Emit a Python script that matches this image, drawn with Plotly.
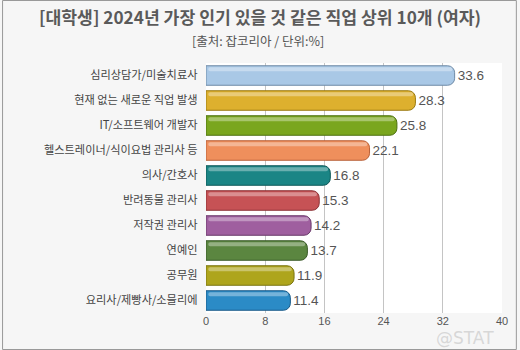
import plotly.graph_objects as go

categories = ["심리상담가/미술치료사", "현재 없는 새로운 직업 발생", "IT/소프트웨어 개발자",
              "헬스트레이너/식이요법 관리사 등", "의사/간호사", "반려동물 관리사", "저작권 관리사",
              "연예인", "공무원", "요리사/제빵사/소믈리에"]
values = [33.6, 28.3, 25.8, 22.1, 16.8, 15.3, 14.2, 13.7, 11.9, 11.4]
colors = ["#a9c8e6", "#ddb02e", "#7aa61e", "#ef8f5c", "#1b8585", "#c65255",
          "#9f5f9f", "#5b8640", "#aea51c", "#2b8bc6"]
edges = ["#6f8aa6", "#9a7a10", "#4d7010", "#b86038", "#0e5858", "#8a3035",
         "#6a3a6a", "#3a5a28", "#7a7410", "#1a5a88"]
tickvals = [0, 8, 16, 24, 32, 40]

W, H = 520, 350
ml, mr, mt, mb = 206, 15, 63, 37
pw, ph = W - ml - mr, H - mt - mb

fig = go.Figure()
fig.add_trace(go.Bar(
    y=categories, x=values, orientation="h",
    marker=dict(color=colors, line=dict(color=edges, width=1)),
    width=0.78,
    text=[f"{v:.1f}" for v in values], textposition="outside",
    textfont=dict(size=13.5, color="#555555", family="Liberation Sans, Arial"),
    cliponaxis=False, hoverinfo="skip",
))
# glossy highlight
fig.add_trace(go.Bar(
    y=categories, x=[v - 0.6 for v in values], orientation="h", base=0.3,
    marker=dict(color="rgba(255,255,255,0.35)", line=dict(width=0)),
    width=0.16, offset=-0.33, hoverinfo="skip",
))

def px2x(p):
    return (p - ml) / pw

def py2y(p):
    return 1 - (p - mt) / ph

fig.update_layout(
    width=W, height=H,
    margin=dict(l=ml, r=mr, t=mt, b=mb),
    paper_bgcolor="#f6f6f6", plot_bgcolor="#ffffff",
    barmode="overlay", barcornerradius=7, showlegend=False,
    font=dict(family="Noto Sans CJK KR, sans-serif", color="#444444"),
    xaxis=dict(range=[0, 40], tickvals=tickvals, showgrid=True, gridcolor="#c4c4c4",
               gridwidth=1, zeroline=False, showline=False, ticks="",
               tickfont=dict(size=11, color="#555555", family="Liberation Sans, Arial")),
    yaxis=dict(autorange="reversed", showgrid=False, ticks="", ticksuffix="   ",
               tickfont=dict(size=11.2, color="#444444")),
    annotations=[
        dict(text="<b>[대학생] 2024년 가장 인기 있을 것 같은 직업 상위 10개 (여자)</b>",
             x=px2x(261), y=py2y(16), xref="paper", yref="paper", showarrow=False,
             font=dict(size=17.2, color="#5a5a5a", family="Noto Sans CJK KR"),
             xanchor="center", yanchor="middle"),
        dict(text="[출처: 잡코리아 / 단위:%]",
             x=px2x(259), y=py2y(41), xref="paper", yref="paper", showarrow=False,
             font=dict(size=12.5, color="#555555", family="Noto Sans CJK KR"),
             xanchor="center", yanchor="middle"),
        dict(text="@STAT", x=px2x(468), y=py2y(338), xref="paper", yref="paper",
             showarrow=False, font=dict(size=17, color="rgba(205,205,205,0.75)",
                                        family="DejaVu Sans"),
             xanchor="center", yanchor="middle"),
    ],
    shapes=[dict(type="rect", xref="paper", yref="paper",
                 x0=px2x(0.5), x1=px2x(W - 0.5), y0=py2y(H - 0.5), y1=py2y(0.5),
                 line=dict(color="#999999", width=1), fillcolor="rgba(0,0,0,0)",
                 layer="above")],
)

fig.write_html("out.html")
